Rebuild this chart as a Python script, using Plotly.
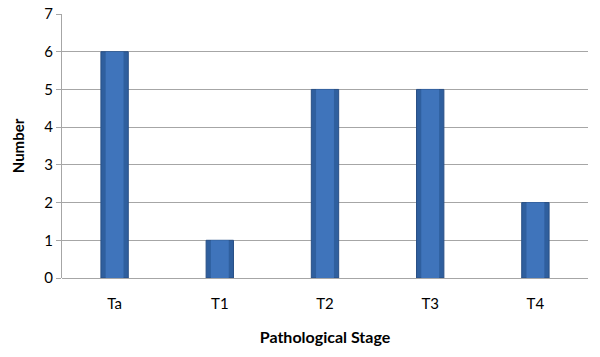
import plotly.graph_objects as go

categories = ["Ta", "T1", "T2", "T3", "T4"]
values = [6, 1, 5, 5, 2]
y_ticks = [0, 1, 2, 3, 4, 5, 6, 7]

fig = go.Figure()
fig.add_trace(go.Bar(
    x=categories, y=values,
    marker=dict(color="#2f5f9e", line=dict(color="#284f85", width=1)),
    width=0.26,
))
fig.add_trace(go.Bar(
    x=categories, y=values,
    marker=dict(color="#3f74bb", line=dict(width=0)),
    width=0.17,
))
fig.update_layout(
    width=600, height=357,
    margin=dict(l=62, r=12, t=14, b=79),
    plot_bgcolor="white", paper_bgcolor="white",
    font=dict(family="Lato, Liberation Sans, sans-serif", size=14, color="#000000"),
    showlegend=False,
    barmode="overlay",
)
fig.update_xaxes(
    automargin=False,
    showgrid=False, showline=False,
    ticks="outside", ticklen=12, tickcolor="rgba(0,0,0,0)",
    title=dict(text="<b>Pathological Stage</b>", font=dict(size=16), standoff=20),
    tickfont=dict(size=15),
)
fig.update_yaxes(
    automargin=False,
    range=[0, 7], tickvals=y_ticks, showgrid=True, gridcolor="#a6a6a6", gridwidth=1,
    showline=True, linecolor="#a6a6a6", linewidth=1,
    ticks="outside", ticklen=5, tickcolor="#a6a6a6",
    zeroline=True, zerolinecolor="#a6a6a6", zerolinewidth=1,
    title=dict(text="<b>Number</b>", font=dict(size=15), standoff=16),
    tickfont=dict(size=15),
)
fig.write_html("out.html", config={"displayModeBar": False},
               post_script="document.body.style.margin='0';")
